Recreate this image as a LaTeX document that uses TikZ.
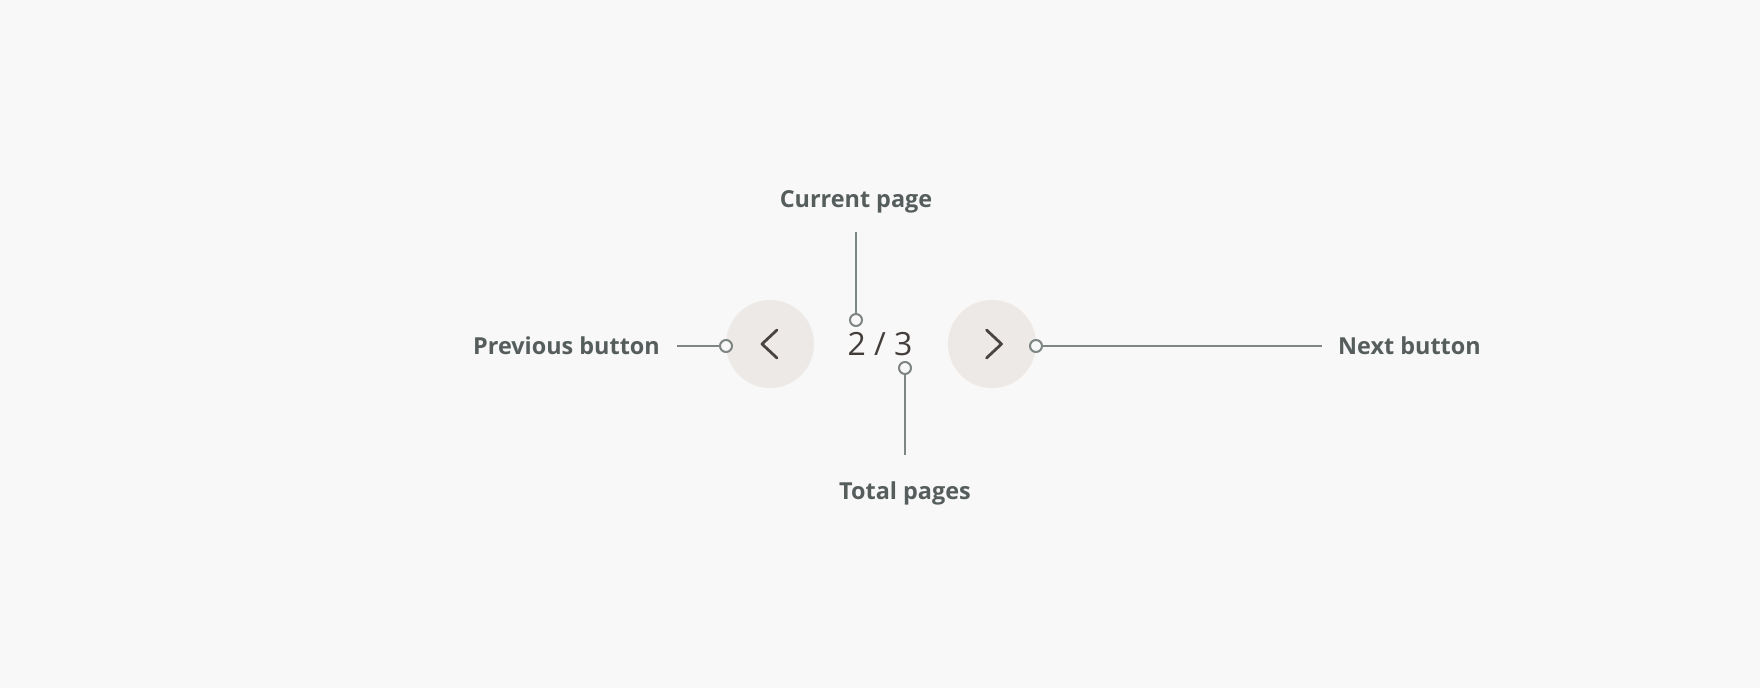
\documentclass[tikz,border=0pt]{standalone}
\usepackage{fontspec}
\setmainfont{Open Sans}
\usetikzlibrary{positioning}
\definecolor{BgGray}{HTML}{F7F8F7}
\definecolor{LabelGray}{HTML}{565E5D}
\definecolor{LineGray}{HTML}{7E8683}
\definecolor{BtnFill}{HTML}{ECE9E6}
\definecolor{ChevBrown}{HTML}{4A4341}
\definecolor{CountBrown}{HTML}{433D3B}

\begin{document}
\begin{tikzpicture}[
        % Environment Config
        x=1pt, y=-1pt,
        Label/.style={% Style for the callout texts
          text=LabelGray,
          font=\fontsize{23.4}{28}\selectfont\bfseries,
          inner sep=0pt
        },
        Button/.style={% Style for the round buttons
          circle,
          fill=BtnFill,
          minimum size=88pt,
          inner sep=0pt
        },
        Chevron/.style={% Style for the arrows inside the buttons
          draw=ChevBrown,
          line width=2.8pt,
          line cap=round,
          line join=round
        },
        Marker/.style={% Style for the small ring marks
          circle,
          draw=LineGray,
          fill=BgGray,
          line width=2pt,
          minimum size=12pt,
          inner sep=0pt
        },
        Leader/.style={% Style for the callout lines
          draw=LineGray,
          line width=1.6pt
        }
      ]

      % Background and margins
      \fill[BgGray] (0,0) rectangle (1760,688);
      \useasboundingbox (0,0) rectangle (1760,688);

      % Put the buttons and the page counter
      \node[Button](PrevBtn) at (770,344){};
      \node[Button](NextBtn) at (992,344){};
      \node[anchor=base, text=CountBrown, inner sep=0pt,
            font=\fontsize{32}{38}\selectfont](Count) at (880,355){2 / 3};

      %===Chevrons===
      \draw[Chevron] ([shift={(7,-14)}]PrevBtn.center)
          --++(-15,14)
          --++(15,14);
      \draw[Chevron] ([shift={(-5.5,-14)}]NextBtn.center)
          --++(15,14)
          --++(-15,14);

      % Put the callout texts
      \node[Label, anchor=base east](PrevLbl) at (660,354){Previous button};
      \node[Label, anchor=base west](NextLbl) at (1338,354){Next button};
      \node[Label, anchor=base](CurLbl) at (856,207){Current page};
      \node[Label, anchor=base](TotLbl) at (905,499){Total pages};

      % Free ends of the callout lines
      \coordinate (PrevEnd) at (677,346);
      \coordinate (NextEnd) at (1322,346);
      \coordinate (CurEnd) at (856,232);
      \coordinate (TotEnd) at (905,455);

      % Put the ring marks
      \node[Marker](PrevMark) at (726,346){};
      \node[Marker](NextMark) at (1036,346){};
      \node[Marker](CurMark) at (856,320){};
      \node[Marker](TotMark) at (905,368){};

      % Draw the callout lines
      \draw[Leader] (PrevEnd) -- (PrevMark);
      \draw[Leader] (NextMark) -- (NextEnd);
      \draw[Leader] (CurEnd) -- (CurMark);
      \draw[Leader] (TotMark) -- (TotEnd);

\end{tikzpicture}
\end{document}
